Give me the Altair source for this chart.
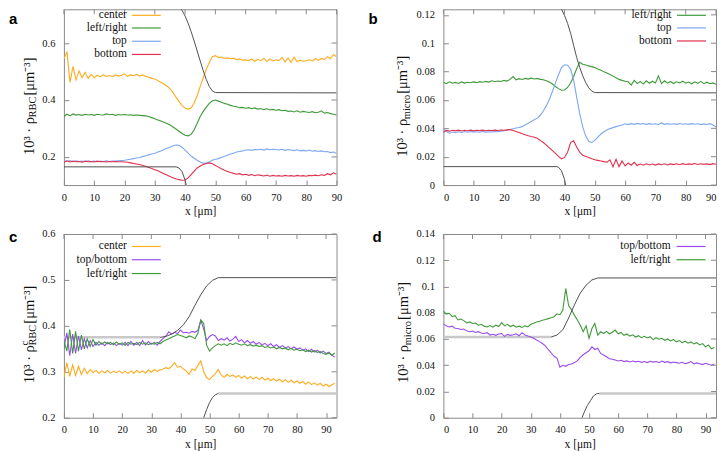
import altair as alt
import pandas as pd

# ---------------- data ----------------
X_AB = list(range(0, 91))
X_CD = list(range(0, 94))

A_CENTER = [0.545,0.570,0.462,0.518,0.470,0.502,0.478,0.497,0.476,0.490,
            0.478,0.487,0.481,0.489,0.483,0.486,0.482,0.488,0.484,0.487,
            0.492,0.483,0.488,0.485,0.490,0.484,0.488,0.483,0.481,0.476,
            0.474,0.468,0.462,0.456,0.449,0.440,0.426,0.410,0.395,0.380,
            0.372,0.368,0.372,0.390,0.415,0.448,0.478,0.508,0.532,0.552,
            0.556,0.549,0.551,0.546,0.548,0.545,0.547,0.542,0.544,0.540,
            0.541,0.538,0.544,0.536,0.543,0.538,0.546,0.535,0.544,0.537,
            0.541,0.538,0.550,0.533,0.548,0.532,0.551,0.534,0.540,0.536,
            0.538,0.541,0.537,0.545,0.539,0.546,0.542,0.552,0.545,0.560,
            0.552]
A_LR = [0.342,0.350,0.345,0.351,0.347,0.349,0.346,0.350,0.347,0.349,
        0.346,0.350,0.348,0.347,0.351,0.348,0.350,0.346,0.349,0.347,
        0.349,0.347,0.348,0.346,0.347,0.346,0.345,0.344,0.342,0.338,
        0.334,0.330,0.326,0.322,0.317,0.312,0.305,0.298,0.290,0.282,
        0.276,0.274,0.279,0.295,0.318,0.342,0.360,0.375,0.388,0.397,
        0.400,0.396,0.392,0.388,0.385,0.381,0.378,0.376,0.373,0.374,
        0.371,0.373,0.369,0.372,0.368,0.370,0.366,0.369,0.365,0.367,
        0.364,0.366,0.362,0.364,0.360,0.361,0.358,0.362,0.357,0.360,
        0.358,0.356,0.359,0.355,0.357,0.362,0.354,0.356,0.352,0.350,
        0.347]
A_TOP = [0.186,0.184,0.187,0.183,0.186,0.184,0.185,0.183,0.186,0.184,
         0.185,0.183,0.185,0.184,0.186,0.184,0.185,0.185,0.186,0.187,
         0.188,0.190,0.192,0.194,0.196,0.198,0.201,0.204,0.207,0.210,
         0.213,0.217,0.221,0.226,0.230,0.234,0.239,0.242,0.241,0.234,
         0.224,0.213,0.203,0.195,0.188,0.182,0.178,0.178,0.183,0.188,
         0.192,0.194,0.198,0.202,0.206,0.210,0.213,0.217,0.219,0.221,
         0.224,0.225,0.223,0.226,0.225,0.227,0.224,0.228,0.225,0.227,
         0.226,0.224,0.227,0.223,0.226,0.224,0.222,0.225,0.221,0.223,
         0.221,0.224,0.220,0.222,0.219,0.221,0.218,0.219,0.215,0.217,
         0.212]
A_BOT = [0.181,0.186,0.182,0.185,0.183,0.184,0.181,0.185,0.183,0.184,
         0.182,0.185,0.183,0.184,0.182,0.184,0.183,0.184,0.183,0.183,
         0.182,0.181,0.179,0.177,0.175,0.173,0.170,0.167,0.163,0.159,
         0.155,0.151,0.146,0.141,0.136,0.131,0.127,0.123,0.120,0.118,
         0.119,0.126,0.138,0.150,0.161,0.168,0.173,0.177,0.179,0.176,
         0.170,0.164,0.158,0.153,0.149,0.145,0.142,0.139,0.141,0.137,
         0.139,0.135,0.138,0.134,0.137,0.135,0.133,0.136,0.132,0.135,
         0.133,0.134,0.132,0.135,0.133,0.134,0.132,0.135,0.133,0.134,
         0.132,0.135,0.134,0.136,0.134,0.137,0.135,0.141,0.137,0.144,
         0.139]

B_LR = [0.0725,0.0715,0.0728,0.0718,0.0724,0.0716,0.0727,0.0719,0.0725,0.0721,
        0.0727,0.0722,0.0729,0.0725,0.0731,0.0726,0.0735,0.0728,0.0733,0.0730,
        0.0738,0.0733,0.0745,0.0765,0.0742,0.0750,0.0744,0.0752,0.0747,0.0754,
        0.0748,0.0752,0.0745,0.0742,0.0735,0.0726,0.0712,0.0695,0.0680,0.0668,
        0.0670,0.0688,0.0720,0.0765,0.0820,0.0865,0.0852,0.0846,0.0840,0.0835,
        0.0828,0.0818,0.0810,0.0798,0.0790,0.0780,0.0768,0.0756,0.0745,0.0738,
        0.0732,0.0728,0.0705,0.0738,0.0715,0.0730,0.0712,0.0735,0.0718,0.0732,
        0.0720,0.0770,0.0715,0.0735,0.0718,0.0730,0.0716,0.0728,0.0720,0.0732,
        0.0718,0.0726,0.0714,0.0728,0.0717,0.0731,0.0715,0.0725,0.0714,0.0720,
        0.0710]
B_TOP = [0.0395,0.0378,0.0366,0.0374,0.0369,0.0376,0.0371,0.0377,0.0372,0.0378,
         0.0373,0.0376,0.0372,0.0377,0.0373,0.0376,0.0374,0.0378,0.0376,0.0380,
         0.0383,0.0386,0.0392,0.0397,0.0402,0.0406,0.0412,0.0424,0.0436,0.0448,
         0.0460,0.0472,0.0492,0.0522,0.0560,0.0605,0.0660,0.0720,0.0778,0.0828,
         0.0848,0.0845,0.0818,0.0740,0.0620,0.0505,0.0410,0.0345,0.0308,0.0300,
         0.0315,0.0338,0.0360,0.0376,0.0388,0.0398,0.0405,0.0412,0.0418,0.0424,
         0.0432,0.0426,0.0433,0.0428,0.0435,0.0430,0.0434,0.0428,0.0433,0.0429,
         0.0432,0.0427,0.0438,0.0428,0.0433,0.0429,0.0432,0.0428,0.0434,0.0429,
         0.0432,0.0428,0.0433,0.0429,0.0432,0.0426,0.0431,0.0427,0.0433,0.0424,
         0.0410]
B_BOT = [0.0372,0.0385,0.0380,0.0386,0.0382,0.0387,0.0381,0.0386,0.0383,0.0387,
         0.0382,0.0386,0.0384,0.0387,0.0383,0.0386,0.0384,0.0387,0.0385,0.0388,
         0.0386,0.0389,0.0391,0.0385,0.0378,0.0370,0.0362,0.0355,0.0348,0.0342,
         0.0337,0.0330,0.0315,0.0300,0.0282,0.0262,0.0243,0.0224,0.0202,0.0184,
         0.0195,0.0232,0.0300,0.0312,0.0268,0.0232,0.0210,0.0202,0.0195,0.0186,
         0.0178,0.0174,0.0170,0.0165,0.0162,0.0178,0.0128,0.0182,0.0130,0.0170,
         0.0135,0.0155,0.0140,0.0160,0.0138,0.0148,0.0140,0.0150,0.0142,0.0148,
         0.0141,0.0149,0.0143,0.0150,0.0142,0.0149,0.0144,0.0150,0.0143,0.0151,
         0.0145,0.0149,0.0146,0.0152,0.0145,0.0150,0.0146,0.0149,0.0144,0.0151,
         0.0147]

C_CENTER = [0.288,0.320,0.290,0.315,0.292,0.312,0.294,0.308,0.296,0.305,
            0.298,0.303,0.297,0.302,0.298,0.303,0.297,0.301,0.298,0.302,
            0.297,0.301,0.296,0.302,0.297,0.303,0.298,0.302,0.297,0.304,
            0.299,0.305,0.301,0.304,0.306,0.309,0.307,0.312,0.320,0.310,
            0.312,0.306,0.302,0.294,0.306,0.303,0.314,0.324,0.300,0.287,
            0.283,0.290,0.296,0.305,0.293,0.288,0.294,0.290,0.293,0.288,
            0.292,0.286,0.291,0.285,0.290,0.284,0.289,0.283,0.288,0.282,
            0.286,0.281,0.285,0.280,0.284,0.278,0.283,0.277,0.282,0.276,
            0.280,0.275,0.279,0.273,0.278,0.272,0.276,0.271,0.275,0.269,
            0.273,0.268,0.272,0.275]
C_TB = [0.352,0.385,0.335,0.382,0.340,0.378,0.348,0.372,0.352,0.368,
        0.355,0.364,0.358,0.363,0.357,0.364,0.359,0.363,0.357,0.362,
        0.358,0.364,0.357,0.366,0.358,0.364,0.357,0.368,0.358,0.366,
        0.360,0.364,0.358,0.366,0.372,0.378,0.387,0.382,0.386,0.383,
        0.391,0.385,0.386,0.384,0.388,0.386,0.390,0.412,0.393,0.368,
        0.377,0.381,0.378,0.368,0.372,0.369,0.374,0.367,0.371,0.377,
        0.366,0.370,0.363,0.368,0.362,0.366,0.360,0.364,0.358,0.362,
        0.357,0.361,0.355,0.359,0.353,0.357,0.352,0.355,0.350,0.354,
        0.349,0.352,0.347,0.350,0.344,0.349,0.343,0.347,0.341,0.345,
        0.340,0.343,0.336,0.332]
C_LR = [0.368,0.345,0.392,0.340,0.388,0.345,0.380,0.350,0.372,0.355,
        0.370,0.358,0.366,0.360,0.365,0.361,0.364,0.359,0.365,0.360,
        0.363,0.358,0.364,0.360,0.362,0.359,0.364,0.360,0.363,0.359,
        0.362,0.360,0.364,0.361,0.366,0.369,0.372,0.375,0.378,0.381,
        0.379,0.377,0.374,0.378,0.376,0.372,0.384,0.413,0.405,0.358,
        0.345,0.352,0.357,0.361,0.358,0.361,0.357,0.362,0.359,0.363,
        0.360,0.358,0.361,0.357,0.359,0.356,0.358,0.355,0.357,0.353,
        0.355,0.352,0.354,0.350,0.353,0.350,0.352,0.348,0.351,0.347,
        0.349,0.346,0.348,0.344,0.347,0.343,0.346,0.342,0.344,0.340,
        0.338,0.341,0.336,0.341]

D_TB = [0.0715,0.0700,0.0692,0.0698,0.0682,0.0680,0.0672,0.0676,0.0662,0.0655,
        0.0660,0.0650,0.0656,0.0645,0.0642,0.0648,0.0630,0.0636,0.0628,0.0638,
        0.0642,0.0620,0.0635,0.0628,0.0632,0.0640,0.0625,0.0648,0.0630,0.0622,
        0.0615,0.0605,0.0592,0.0580,0.0566,0.0548,0.0520,0.0495,0.0468,0.0455,
        0.0385,0.0400,0.0392,0.0405,0.0410,0.0420,0.0435,0.0460,0.0480,0.0495,
        0.0510,0.0540,0.0520,0.0530,0.0490,0.0478,0.0465,0.0450,0.0445,0.0440,
        0.0432,0.0438,0.0428,0.0433,0.0425,0.0432,0.0426,0.0430,0.0422,0.0428,
        0.0420,0.0430,0.0424,0.0428,0.0420,0.0432,0.0422,0.0427,0.0418,0.0425,
        0.0420,0.0415,0.0422,0.0412,0.0418,0.0428,0.0410,0.0418,0.0412,0.0405,
        0.0415,0.0408,0.0400,0.0410]
D_LR = [0.0812,0.0790,0.0796,0.0770,0.0778,0.0745,0.0752,0.0740,0.0722,0.0730,
        0.0718,0.0722,0.0705,0.0712,0.0698,0.0692,0.0702,0.0690,0.0705,0.0695,
        0.0725,0.0700,0.0712,0.0695,0.0705,0.0690,0.0698,0.0688,0.0700,0.0692,
        0.0712,0.0720,0.0730,0.0735,0.0743,0.0748,0.0755,0.0762,0.0770,0.0792,
        0.0785,0.0818,0.0985,0.0855,0.0822,0.0780,0.0745,0.0705,0.0655,0.0700,
        0.0605,0.0680,0.0718,0.0630,0.0655,0.0642,0.0658,0.0640,0.0652,0.0668,
        0.0640,0.0650,0.0628,0.0638,0.0622,0.0632,0.0615,0.0625,0.0610,0.0620,
        0.0608,0.0618,0.0595,0.0610,0.0598,0.0605,0.0590,0.0600,0.0585,0.0596,
        0.0578,0.0588,0.0572,0.0583,0.0568,0.0578,0.0562,0.0572,0.0555,0.0565,
        0.0540,0.0555,0.0525,0.0535]

# channel wall outlines (dark) and flat parts (light grey)
A_WALL_TOP_X = [0, 37, 38, 39, 40, 41, 42, 43, 44, 45, 46, 47, 48, 49, 50, 90]
A_WALL_TOP_Y = [0.73, 0.73, 0.727, 0.715, 0.695, 0.670, 0.640, 0.607, 0.572, 0.537, 0.503, 0.472, 0.447, 0.432, 0.426, 0.425]
A_WALL_BOT_X = [0, 37, 38, 39, 40, 40.5]
A_WALL_BOT_Y = [0.165, 0.165, 0.161, 0.148, 0.118, 0.095]
B_WALL_TOP_X = [0, 37.5, 38, 39, 40, 41, 42, 43, 44, 45, 46, 47, 48, 49, 50, 90]
B_WALL_TOP_Y = [0.1265, 0.1265, 0.1262, 0.1240, 0.1195, 0.1140, 0.1070, 0.0985, 0.0900, 0.0830, 0.0770, 0.0722, 0.0685, 0.0662, 0.0652, 0.0650]
B_WALL_BOT_X = [0, 37.5, 38, 39, 40, 40.5]
B_WALL_BOT_Y = [0.013, 0.013, 0.0126, 0.0100, 0.0040, -0.002]
C_WALL_TOP_X = [33, 35, 37, 39, 41, 43, 45, 47, 49, 51, 53, 93.6]
C_WALL_TOP_Y = [0.375, 0.377, 0.382, 0.390, 0.402, 0.420, 0.445, 0.468, 0.487, 0.499, 0.505, 0.505]
C_WALL_BOT_X = [47.5, 48, 49, 50, 51, 52, 53]
C_WALL_BOT_Y = [0.19, 0.200, 0.218, 0.233, 0.244, 0.250, 0.253]
C_FLAT_X = [[0, 33], [53, 93.6]]
C_FLAT_Y = [[0.375, 0.375], [0.253, 0.253]]
D_WALL_TOP_X = [37, 39, 41, 43, 45, 47, 49, 51, 53, 93.6]
D_WALL_TOP_Y = [0.0615, 0.063, 0.067, 0.076, 0.086, 0.095, 0.101, 0.105, 0.1065, 0.1065]
D_WALL_BOT_X = [47, 47.6, 48.5, 49.5, 50.5, 51.5, 52.5, 53.5]
D_WALL_BOT_Y = [-0.003, 0.0, 0.005, 0.0095, 0.013, 0.0165, 0.0182, 0.0185]
D_FLAT_X = [[0, 37], [53.5, 93.6]]
D_FLAT_Y = [[0.0615, 0.0615], [0.0185, 0.0185]]

X_TICKS = [0, 10, 20, 30, 40, 50, 60, 70, 80, 90]
A_YTICKS = [0.2, 0.4, 0.6]
B_YTICKS = [0, 0.02, 0.04, 0.06, 0.08, 0.1, 0.12]
C_YTICKS = [0.2, 0.3, 0.4, 0.5, 0.6]
D_YTICKS = [0, 0.02, 0.04, 0.06, 0.08, 0.1, 0.12, 0.14]

# ---------------- style ----------------
SERIF = "Liberation Serif"
FRAME = "#8a8a8a"
WALL = "#505050"
LIGHT = "#c9c9c9"
ORANGE = "#ffab1f"
GREEN = "#3f9a3a"
BLUE = "#7da7f0"
RED = "#e2304f"
PURPLE = "#9a4cf0"
W = 273
H_TOP, H_BOT = 176, 184
TXT = "#111111"
LBL = 10.5

ONE = pd.DataFrame({"k": [0]})

CW = {'1': .5, '0': .5, '³': .3, ' ': .25, '·': .25, 'ρ': .55, 'R': .667, 'B': .667,
      'C': .667, 'm': .778, 'i': .278, 'c': .444, 'r': .333, 'o': .5, '[': .333,
      ']': .333, 'μ': .5, '⁻': .42}


def tw(s, fs):
    return sum(CW.get(ch, .5) for ch in s) * fs


def xenc(dom, flush):
    return alt.X("x:Q", scale=alt.Scale(domain=dom, nice=False, zero=False),
                 axis=alt.Axis(values=X_TICKS, format="d", offset=-5, tickSize=5,
                               tickColor=FRAME, tickWidth=1, domain=False, grid=False,
                               labelFont=SERIF, labelFontSize=LBL, labelColor=TXT,
                               labelPadding=7, labelFlush=flush, labelOverlap=False,
                               title="x [μm]", titleFont=SERIF, titleFontSize=11.5,
                               titleFontWeight="normal", titleColor=TXT, titlePadding=3))


def yenc(dom, ticks):
    return alt.Y("y:Q", scale=alt.Scale(domain=dom, nice=False, zero=False),
                 axis=alt.Axis(values=ticks, format="~g", offset=-5, tickSize=5,
                               tickColor=FRAME, tickWidth=1, domain=False, grid=False,
                               labelFont=SERIF, labelFontSize=LBL, labelColor=TXT,
                               labelPadding=9, labelFlush=False, labelOverlap=False,
                               title=None))


def seg_df(xs_list, ys_list):
    rows = []
    for k, (xs, ys) in enumerate(zip(xs_list, ys_list)):
        for xi, yi in zip(xs, ys):
            rows.append({"x": xi, "y": yi, "seg": k})
    return pd.DataFrame(rows)


def txt(s, x, y, **kw):
    return alt.Chart(ONE).mark_text(text=s, **kw).encode(x=alt.value(x), y=alt.value(y))


def panel(xvals, series, xdom, ydom, yticks, height, flush, walls, flats, legend, ttl, letter):
    rows = []
    for name, col, vals in series:
        for xi, yi in zip(xvals, vals):
            rows.append({"x": xi, "y": yi, "s": name, "c": col})
    df = pd.DataFrame(rows)
    X = xenc(xdom, flush)
    Y = yenc(ydom, yticks)
    layers = []
    if flats:
        layers.append(alt.Chart(seg_df(*flats)).mark_line(color=LIGHT, strokeWidth=2.5, clip=True)
                      .encode(x=X, y=Y, detail="seg:N"))
    layers.append(alt.Chart(df).mark_line(strokeWidth=1.1, clip=True).encode(
        x=X, y=Y, color=alt.Color("c:N", scale=None), detail="s:N"))
    layers.append(alt.Chart(seg_df(*walls)).mark_line(color=WALL, strokeWidth=1, clip=True)
                  .encode(x=X, y=Y, detail="seg:N"))
    # mirrored ticks (top / right)
    layers.append(alt.Chart(pd.DataFrame({"x": X_TICKS})).mark_rule(color=FRAME, strokeWidth=1)
                  .encode(x=X, y=alt.value(0), y2=alt.value(5)))
    layers.append(alt.Chart(pd.DataFrame({"y": yticks})).mark_rule(color=FRAME, strokeWidth=1)
                  .encode(y=Y, x=alt.value(W - 5), x2=alt.value(W)))
    # key
    tx, l1, l2, ys = legend
    for (name, col, _), yy in zip(series, ys):
        layers.append(txt(name, tx, yy, font=SERIF, fontSize=11.5, align="right",
                          baseline="middle", color=TXT))
        layers.append(alt.Chart(ONE).mark_rule(color=col, strokeWidth=1.2).encode(
            x=alt.value(l1), x2=alt.value(l2), y=alt.value(yy)))
    # y title built from pieces (sub/superscripts)
    xc, ycen, sub, sup = ttl
    fs, fss = 14.5, 10.5
    p1, p3 = "10³ · ρ", " [μm⁻³]"
    total = tw(p1, fs) + tw(sub, fss) + 1 + tw(p3, fs)
    yb = ycen + total / 2
    y2 = yb - tw(p1, fs)
    y3 = y2 - tw(sub, fss) - 1
    layers.append(txt(p1, xc, yb, font=SERIF, fontSize=fs, angle=270, align="left",
                      baseline="middle", color=TXT))
    if sup:
        layers.append(txt(sup, xc - 4.5, y2, font=SERIF, fontSize=fss, angle=270,
                          align="left", baseline="middle", color=TXT))
    layers.append(txt(sub, xc + 3.5, y2, font=SERIF, fontSize=fss, angle=270, align="left",
                      baseline="middle", color=TXT))
    layers.append(txt(p3, xc, y3, font=SERIF, fontSize=fs, angle=270, align="left",
                      baseline="middle", color=TXT))
    lt, lx, ly = letter
    layers.append(txt(lt, lx, ly, font="Liberation Sans", fontSize=15, fontWeight="bold",
                      align="left", baseline="alphabetic", color="#000"))
    return alt.layer(*layers).properties(width=W, height=height)


pa = panel(X_AB, [("center", ORANGE, A_CENTER), ("left/right", GREEN, A_LR),
                  ("top", BLUE, A_TOP), ("bottom", RED, A_BOT)],
           [0, 90], [0.101, 0.7186], A_YTICKS, H_TOP, False,
           ([A_WALL_TOP_X, A_WALL_BOT_X], [A_WALL_TOP_Y, A_WALL_BOT_Y]), None,
           (63, 68, 97, [6.0, 18.7, 32.0, 45.2]),
           (-34, 95, "RBC", None), ("a", -55, 15))
pb = panel(X_AB, [("left/right", GREEN, B_LR), ("top", BLUE, B_TOP), ("bottom", RED, B_BOT)],
           [0, 90], [0, 0.1239], B_YTICKS, H_TOP, True,
           ([B_WALL_TOP_X, B_WALL_BOT_X], [B_WALL_TOP_Y, B_WALL_BOT_Y]), None,
           (228.5, 234, 263, [6.0, 18.6, 31.7]),
           (-40, 95, "micro", None), ("b", -75, 15))
pc = panel(X_CD, [("center", ORANGE, C_CENTER), ("top/bottom", PURPLE, C_TB),
                  ("left/right", GREEN, C_LR)],
           [0, 93.6], [0.2, 0.6], C_YTICKS, H_BOT, False,
           ([C_WALL_TOP_X, C_WALL_BOT_X], [C_WALL_TOP_Y, C_WALL_BOT_Y]), (C_FLAT_X, C_FLAT_Y),
           (63, 68, 97, [12.5, 25.8, 39.6]),
           (-34, 98.5, "RBC", "c"), ("c", -55, 8.5))
pd_ = panel(X_CD, [("top/bottom", PURPLE, D_TB), ("left/right", GREEN, D_LR)],
            [0, 93.6], [0, 0.14], D_YTICKS, H_BOT, True,
            ([D_WALL_TOP_X, D_WALL_BOT_X], [D_WALL_TOP_Y, D_WALL_BOT_Y]), (D_FLAT_X, D_FLAT_Y),
            (227.5, 233.5, 262.5, [12.5, 25.8]),
            (-39, 96.5, "micro", None), ("d", -71, 8.5))

chart = alt.concat(pa, pb, pc, pd_, columns=2, spacing={"row": 49, "column": 107},
                   bounds="flush", align="each").properties(
    padding={"left": 0, "top": 0, "right": 0, "bottom": 0}
).configure_view(stroke=FRAME, strokeWidth=1)

chart.save("out.html", embed_options={"renderer": "svg", "actions": False})
